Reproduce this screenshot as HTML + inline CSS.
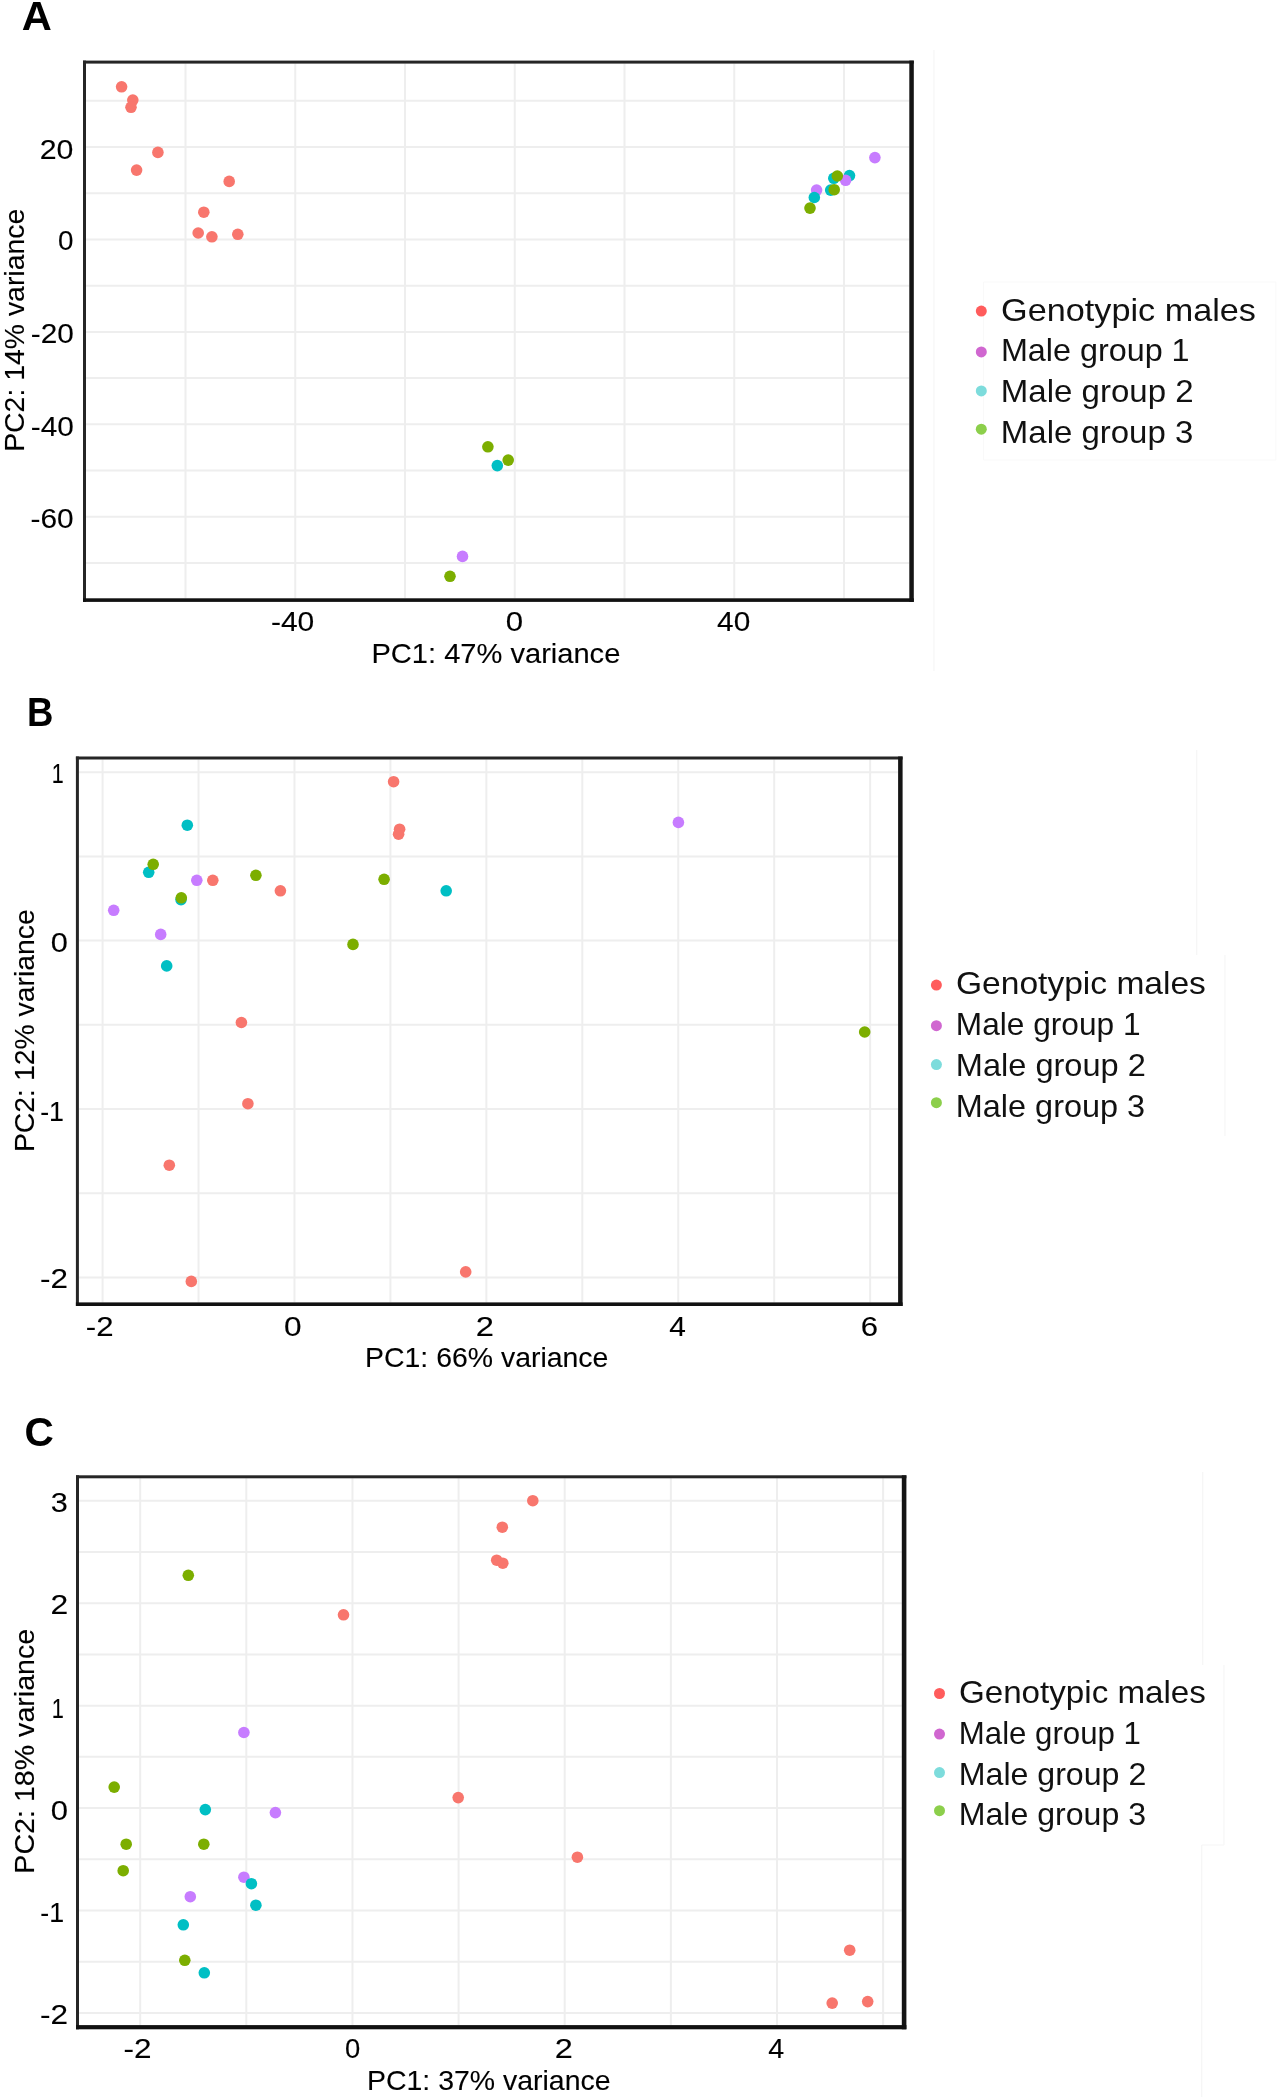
<!DOCTYPE html>
<html><head><meta charset="utf-8"><style>
html,body{margin:0;padding:0;background:#fff;}
body{width:1278px;height:2097px;overflow:hidden;}
svg{display:block;filter:blur(0.3px);}
text{font-family:"Liberation Sans", sans-serif;fill:#000;}
.tk,.tt{stroke:#000;stroke-width:0.12px;}
.lg{fill:#111;}
</style></head><body>
<svg width="1278" height="2097" viewBox="0 0 1278 2097">
<rect x="0" y="0" width="1278" height="2097" fill="#fff"/>
<line x1="934.00" y1="50.00" x2="934.00" y2="671.00" stroke="#F6F6F6" stroke-width="1.2"/>
<line x1="983.60" y1="282.00" x2="1275.90" y2="282.00" stroke="#F9F9F9" stroke-width="1"/>
<line x1="983.60" y1="282.00" x2="983.60" y2="460.00" stroke="#F9F9F9" stroke-width="1"/>
<line x1="1275.90" y1="282.00" x2="1275.90" y2="460.00" stroke="#F9F9F9" stroke-width="1"/>
<line x1="983.60" y1="460.00" x2="1275.90" y2="460.00" stroke="#F9F9F9" stroke-width="1"/>
<line x1="1196.70" y1="750.00" x2="1196.70" y2="955.00" stroke="#F6F6F6" stroke-width="1.2"/>
<line x1="1225.00" y1="955.00" x2="1225.00" y2="1136.00" stroke="#F6F6F6" stroke-width="1.2"/>
<line x1="1202.70" y1="1472.00" x2="1202.70" y2="1665.00" stroke="#F6F6F6" stroke-width="1.2"/>
<line x1="1224.00" y1="1665.00" x2="1224.00" y2="1845.00" stroke="#F6F6F6" stroke-width="1.2"/>
<line x1="1201.70" y1="1845.00" x2="1224.00" y2="1845.00" stroke="#F6F6F6" stroke-width="1.2"/>
<line x1="1201.70" y1="1845.00" x2="1201.70" y2="2097.00" stroke="#F6F6F6" stroke-width="1.2"/>
<line x1="185.50" y1="63.60" x2="185.50" y2="598.30" stroke="#EEEEEE" stroke-width="2.0"/>
<line x1="295.25" y1="63.60" x2="295.25" y2="598.30" stroke="#EEEEEE" stroke-width="2.0"/>
<line x1="405.00" y1="63.60" x2="405.00" y2="598.30" stroke="#EEEEEE" stroke-width="2.0"/>
<line x1="514.75" y1="63.60" x2="514.75" y2="598.30" stroke="#EEEEEE" stroke-width="2.0"/>
<line x1="624.50" y1="63.60" x2="624.50" y2="598.30" stroke="#EEEEEE" stroke-width="2.0"/>
<line x1="734.25" y1="63.60" x2="734.25" y2="598.30" stroke="#EEEEEE" stroke-width="2.0"/>
<line x1="844.00" y1="63.60" x2="844.00" y2="598.30" stroke="#EEEEEE" stroke-width="2.0"/>
<line x1="86.00" y1="100.80" x2="909.30" y2="100.80" stroke="#EEEEEE" stroke-width="2.0"/>
<line x1="86.00" y1="147.02" x2="909.30" y2="147.02" stroke="#EEEEEE" stroke-width="2.0"/>
<line x1="86.00" y1="193.24" x2="909.30" y2="193.24" stroke="#EEEEEE" stroke-width="2.0"/>
<line x1="86.00" y1="239.46" x2="909.30" y2="239.46" stroke="#EEEEEE" stroke-width="2.0"/>
<line x1="86.00" y1="285.68" x2="909.30" y2="285.68" stroke="#EEEEEE" stroke-width="2.0"/>
<line x1="86.00" y1="331.90" x2="909.30" y2="331.90" stroke="#EEEEEE" stroke-width="2.0"/>
<line x1="86.00" y1="378.12" x2="909.30" y2="378.12" stroke="#EEEEEE" stroke-width="2.0"/>
<line x1="86.00" y1="424.34" x2="909.30" y2="424.34" stroke="#EEEEEE" stroke-width="2.0"/>
<line x1="86.00" y1="470.56" x2="909.30" y2="470.56" stroke="#EEEEEE" stroke-width="2.0"/>
<line x1="86.00" y1="516.78" x2="909.30" y2="516.78" stroke="#EEEEEE" stroke-width="2.0"/>
<line x1="86.00" y1="563.00" x2="909.30" y2="563.00" stroke="#EEEEEE" stroke-width="2.0"/>
<circle cx="121.60" cy="86.80" r="5.8" fill="#F8766D"/>
<circle cx="132.80" cy="100.10" r="5.8" fill="#F8766D"/>
<circle cx="131.00" cy="107.30" r="5.8" fill="#F8766D"/>
<circle cx="157.90" cy="152.40" r="5.8" fill="#F8766D"/>
<circle cx="136.60" cy="170.10" r="5.8" fill="#F8766D"/>
<circle cx="229.20" cy="181.40" r="5.8" fill="#F8766D"/>
<circle cx="203.80" cy="212.20" r="5.8" fill="#F8766D"/>
<circle cx="198.20" cy="233.00" r="5.8" fill="#F8766D"/>
<circle cx="211.90" cy="236.80" r="5.8" fill="#F8766D"/>
<circle cx="237.80" cy="234.30" r="5.8" fill="#F8766D"/>
<circle cx="874.90" cy="157.60" r="5.8" fill="#C77CFF"/>
<circle cx="816.60" cy="190.10" r="5.8" fill="#C77CFF"/>
<circle cx="462.50" cy="556.40" r="5.8" fill="#C77CFF"/>
<circle cx="849.50" cy="175.60" r="5.8" fill="#00BFC4"/>
<circle cx="833.80" cy="178.30" r="5.8" fill="#00BFC4"/>
<circle cx="830.70" cy="190.10" r="5.8" fill="#00BFC4"/>
<circle cx="814.30" cy="197.50" r="5.8" fill="#00BFC4"/>
<circle cx="497.30" cy="465.60" r="5.8" fill="#00BFC4"/>
<circle cx="845.60" cy="180.30" r="5.8" fill="#C77CFF"/>
<circle cx="837.30" cy="176.00" r="5.8" fill="#7CAE00"/>
<circle cx="834.20" cy="189.70" r="5.8" fill="#7CAE00"/>
<circle cx="810.00" cy="208.10" r="5.8" fill="#7CAE00"/>
<circle cx="487.90" cy="446.80" r="5.8" fill="#7CAE00"/>
<circle cx="508.20" cy="460.10" r="5.8" fill="#7CAE00"/>
<circle cx="450.00" cy="576.30" r="5.8" fill="#7CAE00"/>
<rect x="83.00" y="60.60" width="3.00" height="541.30" fill="#262626"/>
<rect x="83.00" y="60.60" width="830.80" height="3.00" fill="#262626"/>
<rect x="909.30" y="60.60" width="4.50" height="541.30" fill="#141414"/>
<rect x="83.00" y="598.30" width="830.80" height="3.60" fill="#111111"/>
<text x="39.78" y="158.60" font-size="28.5" class="tk" textLength="33.72" lengthAdjust="spacingAndGlyphs">20</text>
<text x="58.09" y="250.30" font-size="28.5" class="tk" textLength="15.49" lengthAdjust="spacingAndGlyphs">0</text>
<text x="30.76" y="343.40" font-size="28.5" class="tk" textLength="43.07" lengthAdjust="spacingAndGlyphs">-20</text>
<text x="30.76" y="436.10" font-size="28.5" class="tk" textLength="43.07" lengthAdjust="spacingAndGlyphs">-40</text>
<text x="30.56" y="528.40" font-size="28.5" class="tk" textLength="43.17" lengthAdjust="spacingAndGlyphs">-60</text>
<text x="270.95" y="631.20" font-size="28.5" class="tk" textLength="43.39" lengthAdjust="spacingAndGlyphs">-40</text>
<text x="505.75" y="631.20" font-size="28.5" class="tk" textLength="17.35" lengthAdjust="spacingAndGlyphs">0</text>
<text x="717.13" y="631.20" font-size="28.5" class="tk" textLength="33.16" lengthAdjust="spacingAndGlyphs">40</text>
<text x="371.45" y="662.60" font-size="28.5" class="tt" textLength="248.89" lengthAdjust="spacingAndGlyphs">PC1: 47% variance</text>
<text transform="translate(24.00,451.84) rotate(-90)" x="0" y="0" font-size="28.5" class="tt" textLength="243.06" lengthAdjust="spacingAndGlyphs">PC2: 14% variance</text>
<text x="21.86" y="29.60" font-size="41" font-weight="bold" textLength="30.07" lengthAdjust="spacingAndGlyphs">A</text>
<circle cx="981.30" cy="311.10" r="5.5" fill="#FF5C5C"/>
<text x="1001.09" y="320.90" font-size="31.5" class="lg" textLength="254.82" lengthAdjust="spacingAndGlyphs">Genotypic males</text>
<circle cx="981.30" cy="351.90" r="5.5" fill="#D067D0"/>
<text x="1000.93" y="361.30" font-size="31.5" class="lg" textLength="188.67" lengthAdjust="spacingAndGlyphs">Male group 1</text>
<circle cx="981.30" cy="390.90" r="5.5" fill="#7DDCDC"/>
<text x="1000.88" y="402.10" font-size="31.5" class="lg" textLength="192.64" lengthAdjust="spacingAndGlyphs">Male group 2</text>
<circle cx="981.30" cy="429.20" r="5.5" fill="#8CCF4B"/>
<text x="1000.88" y="443.20" font-size="31.5" class="lg" textLength="192.39" lengthAdjust="spacingAndGlyphs">Male group 3</text>
<line x1="102.60" y1="759.50" x2="102.60" y2="1302.40" stroke="#EEEEEE" stroke-width="2.0"/>
<line x1="198.54" y1="759.50" x2="198.54" y2="1302.40" stroke="#EEEEEE" stroke-width="2.0"/>
<line x1="294.48" y1="759.50" x2="294.48" y2="1302.40" stroke="#EEEEEE" stroke-width="2.0"/>
<line x1="390.42" y1="759.50" x2="390.42" y2="1302.40" stroke="#EEEEEE" stroke-width="2.0"/>
<line x1="486.36" y1="759.50" x2="486.36" y2="1302.40" stroke="#EEEEEE" stroke-width="2.0"/>
<line x1="582.30" y1="759.50" x2="582.30" y2="1302.40" stroke="#EEEEEE" stroke-width="2.0"/>
<line x1="678.24" y1="759.50" x2="678.24" y2="1302.40" stroke="#EEEEEE" stroke-width="2.0"/>
<line x1="774.18" y1="759.50" x2="774.18" y2="1302.40" stroke="#EEEEEE" stroke-width="2.0"/>
<line x1="870.12" y1="759.50" x2="870.12" y2="1302.40" stroke="#EEEEEE" stroke-width="2.0"/>
<line x1="78.90" y1="772.20" x2="898.10" y2="772.20" stroke="#EEEEEE" stroke-width="2.0"/>
<line x1="78.90" y1="856.40" x2="898.10" y2="856.40" stroke="#EEEEEE" stroke-width="2.0"/>
<line x1="78.90" y1="940.60" x2="898.10" y2="940.60" stroke="#EEEEEE" stroke-width="2.0"/>
<line x1="78.90" y1="1024.80" x2="898.10" y2="1024.80" stroke="#EEEEEE" stroke-width="2.0"/>
<line x1="78.90" y1="1109.00" x2="898.10" y2="1109.00" stroke="#EEEEEE" stroke-width="2.0"/>
<line x1="78.90" y1="1193.20" x2="898.10" y2="1193.20" stroke="#EEEEEE" stroke-width="2.0"/>
<line x1="78.90" y1="1277.40" x2="898.10" y2="1277.40" stroke="#EEEEEE" stroke-width="2.0"/>
<circle cx="393.60" cy="781.70" r="5.8" fill="#F8766D"/>
<circle cx="399.60" cy="829.20" r="5.8" fill="#F8766D"/>
<circle cx="398.60" cy="834.20" r="5.8" fill="#F8766D"/>
<circle cx="212.80" cy="880.30" r="5.8" fill="#F8766D"/>
<circle cx="280.40" cy="890.80" r="5.8" fill="#F8766D"/>
<circle cx="241.40" cy="1022.50" r="5.8" fill="#F8766D"/>
<circle cx="247.90" cy="1103.70" r="5.8" fill="#F8766D"/>
<circle cx="169.30" cy="1165.20" r="5.8" fill="#F8766D"/>
<circle cx="191.30" cy="1281.40" r="5.8" fill="#F8766D"/>
<circle cx="465.70" cy="1271.90" r="5.8" fill="#F8766D"/>
<circle cx="113.70" cy="910.30" r="5.8" fill="#C77CFF"/>
<circle cx="160.70" cy="934.40" r="5.8" fill="#C77CFF"/>
<circle cx="196.80" cy="880.30" r="5.8" fill="#C77CFF"/>
<circle cx="678.40" cy="822.40" r="5.8" fill="#C77CFF"/>
<circle cx="187.30" cy="825.20" r="5.8" fill="#00BFC4"/>
<circle cx="148.70" cy="872.30" r="5.8" fill="#00BFC4"/>
<circle cx="446.20" cy="890.80" r="5.8" fill="#00BFC4"/>
<circle cx="166.70" cy="965.90" r="5.8" fill="#00BFC4"/>
<circle cx="181.00" cy="899.60" r="5.8" fill="#00BFC4"/>
<circle cx="153.20" cy="864.30" r="5.8" fill="#7CAE00"/>
<circle cx="181.30" cy="897.80" r="5.8" fill="#7CAE00"/>
<circle cx="255.90" cy="875.30" r="5.8" fill="#7CAE00"/>
<circle cx="384.10" cy="879.30" r="5.8" fill="#7CAE00"/>
<circle cx="353.00" cy="944.40" r="5.8" fill="#7CAE00"/>
<circle cx="864.70" cy="1032.00" r="5.8" fill="#7CAE00"/>
<rect x="75.90" y="756.50" width="3.00" height="549.50" fill="#262626"/>
<rect x="75.90" y="756.50" width="826.70" height="3.00" fill="#262626"/>
<rect x="898.10" y="756.50" width="4.50" height="549.50" fill="#141414"/>
<rect x="75.90" y="1302.40" width="826.70" height="3.60" fill="#111111"/>
<text x="51.69" y="783.20" font-size="28.5" class="tk" textLength="11.96" lengthAdjust="spacingAndGlyphs">1</text>
<text x="50.87" y="952.40" font-size="28.5" class="tk" textLength="17.12" lengthAdjust="spacingAndGlyphs">0</text>
<text x="40.19" y="1120.70" font-size="28.5" class="tk" textLength="23.82" lengthAdjust="spacingAndGlyphs">-1</text>
<text x="39.99" y="1287.90" font-size="28.5" class="tk" textLength="27.94" lengthAdjust="spacingAndGlyphs">-2</text>
<text x="85.80" y="1335.60" font-size="28.5" class="tk" textLength="27.71" lengthAdjust="spacingAndGlyphs">-2</text>
<text x="284.14" y="1335.60" font-size="28.5" class="tk" textLength="17.59" lengthAdjust="spacingAndGlyphs">0</text>
<text x="475.86" y="1335.60" font-size="28.5" class="tk" textLength="18.21" lengthAdjust="spacingAndGlyphs">2</text>
<text x="669.23" y="1335.60" font-size="28.5" class="tk" textLength="16.63" lengthAdjust="spacingAndGlyphs">4</text>
<text x="860.74" y="1335.60" font-size="28.5" class="tk" textLength="17.32" lengthAdjust="spacingAndGlyphs">6</text>
<text x="365.05" y="1366.80" font-size="28.5" class="tt" textLength="243.36" lengthAdjust="spacingAndGlyphs">PC1: 66% variance</text>
<text transform="translate(33.80,1152.04) rotate(-90)" x="0" y="0" font-size="28.5" class="tt" textLength="242.75" lengthAdjust="spacingAndGlyphs">PC2: 12% variance</text>
<text x="26.93" y="725.80" font-size="41" font-weight="bold" textLength="26.40" lengthAdjust="spacingAndGlyphs">B</text>
<circle cx="936.40" cy="985.10" r="5.5" fill="#FF5C5C"/>
<text x="956.02" y="993.70" font-size="31.5" class="lg" textLength="249.87" lengthAdjust="spacingAndGlyphs">Genotypic males</text>
<circle cx="936.40" cy="1025.70" r="5.5" fill="#D067D0"/>
<text x="955.89" y="1035.40" font-size="31.5" class="lg" textLength="184.68" lengthAdjust="spacingAndGlyphs">Male group 1</text>
<circle cx="936.40" cy="1064.60" r="5.5" fill="#7DDCDC"/>
<text x="955.81" y="1076.00" font-size="31.5" class="lg" textLength="189.98" lengthAdjust="spacingAndGlyphs">Male group 2</text>
<circle cx="936.40" cy="1102.70" r="5.5" fill="#8CCF4B"/>
<text x="955.82" y="1116.90" font-size="31.5" class="lg" textLength="189.32" lengthAdjust="spacingAndGlyphs">Male group 3</text>
<line x1="140.20" y1="1478.30" x2="140.20" y2="2025.10" stroke="#EEEEEE" stroke-width="2.0"/>
<line x1="246.33" y1="1478.30" x2="246.33" y2="2025.10" stroke="#EEEEEE" stroke-width="2.0"/>
<line x1="352.46" y1="1478.30" x2="352.46" y2="2025.10" stroke="#EEEEEE" stroke-width="2.0"/>
<line x1="458.59" y1="1478.30" x2="458.59" y2="2025.10" stroke="#EEEEEE" stroke-width="2.0"/>
<line x1="564.72" y1="1478.30" x2="564.72" y2="2025.10" stroke="#EEEEEE" stroke-width="2.0"/>
<line x1="670.85" y1="1478.30" x2="670.85" y2="2025.10" stroke="#EEEEEE" stroke-width="2.0"/>
<line x1="776.98" y1="1478.30" x2="776.98" y2="2025.10" stroke="#EEEEEE" stroke-width="2.0"/>
<line x1="883.11" y1="1478.30" x2="883.11" y2="2025.10" stroke="#EEEEEE" stroke-width="2.0"/>
<line x1="79.00" y1="1500.80" x2="901.80" y2="1500.80" stroke="#EEEEEE" stroke-width="2.0"/>
<line x1="79.00" y1="1552.01" x2="901.80" y2="1552.01" stroke="#EEEEEE" stroke-width="2.0"/>
<line x1="79.00" y1="1603.22" x2="901.80" y2="1603.22" stroke="#EEEEEE" stroke-width="2.0"/>
<line x1="79.00" y1="1654.43" x2="901.80" y2="1654.43" stroke="#EEEEEE" stroke-width="2.0"/>
<line x1="79.00" y1="1705.64" x2="901.80" y2="1705.64" stroke="#EEEEEE" stroke-width="2.0"/>
<line x1="79.00" y1="1756.85" x2="901.80" y2="1756.85" stroke="#EEEEEE" stroke-width="2.0"/>
<line x1="79.00" y1="1808.06" x2="901.80" y2="1808.06" stroke="#EEEEEE" stroke-width="2.0"/>
<line x1="79.00" y1="1859.27" x2="901.80" y2="1859.27" stroke="#EEEEEE" stroke-width="2.0"/>
<line x1="79.00" y1="1910.48" x2="901.80" y2="1910.48" stroke="#EEEEEE" stroke-width="2.0"/>
<line x1="79.00" y1="1961.69" x2="901.80" y2="1961.69" stroke="#EEEEEE" stroke-width="2.0"/>
<line x1="79.00" y1="2012.90" x2="901.80" y2="2012.90" stroke="#EEEEEE" stroke-width="2.0"/>
<circle cx="532.80" cy="1500.70" r="5.8" fill="#F8766D"/>
<circle cx="502.30" cy="1527.20" r="5.8" fill="#F8766D"/>
<circle cx="496.70" cy="1560.20" r="5.8" fill="#F8766D"/>
<circle cx="502.80" cy="1563.20" r="5.8" fill="#F8766D"/>
<circle cx="343.50" cy="1614.80" r="5.8" fill="#F8766D"/>
<circle cx="458.20" cy="1797.60" r="5.8" fill="#F8766D"/>
<circle cx="577.40" cy="1857.20" r="5.8" fill="#F8766D"/>
<circle cx="849.70" cy="1950.20" r="5.8" fill="#F8766D"/>
<circle cx="832.20" cy="2003.10" r="5.8" fill="#F8766D"/>
<circle cx="867.70" cy="2001.60" r="5.8" fill="#F8766D"/>
<circle cx="243.90" cy="1732.50" r="5.8" fill="#C77CFF"/>
<circle cx="275.40" cy="1812.60" r="5.8" fill="#C77CFF"/>
<circle cx="243.90" cy="1877.20" r="5.8" fill="#C77CFF"/>
<circle cx="190.30" cy="1896.70" r="5.8" fill="#C77CFF"/>
<circle cx="205.30" cy="1809.60" r="5.8" fill="#00BFC4"/>
<circle cx="251.40" cy="1883.70" r="5.8" fill="#00BFC4"/>
<circle cx="255.90" cy="1905.20" r="5.8" fill="#00BFC4"/>
<circle cx="183.30" cy="1924.80" r="5.8" fill="#00BFC4"/>
<circle cx="204.30" cy="1972.80" r="5.8" fill="#00BFC4"/>
<circle cx="188.30" cy="1575.30" r="5.8" fill="#7CAE00"/>
<circle cx="114.20" cy="1787.10" r="5.8" fill="#7CAE00"/>
<circle cx="126.20" cy="1844.20" r="5.8" fill="#7CAE00"/>
<circle cx="203.80" cy="1844.20" r="5.8" fill="#7CAE00"/>
<circle cx="123.20" cy="1870.70" r="5.8" fill="#7CAE00"/>
<circle cx="184.80" cy="1960.30" r="5.8" fill="#7CAE00"/>
<rect x="76.00" y="1475.30" width="3.00" height="554.00" fill="#262626"/>
<rect x="76.00" y="1475.30" width="830.40" height="3.00" fill="#262626"/>
<rect x="901.80" y="1475.30" width="4.60" height="554.00" fill="#141414"/>
<rect x="76.00" y="2025.10" width="830.40" height="4.20" fill="#111111"/>
<text x="50.75" y="1512.20" font-size="28.5" class="tk" textLength="17.09" lengthAdjust="spacingAndGlyphs">3</text>
<text x="50.41" y="1614.20" font-size="28.5" class="tk" textLength="17.72" lengthAdjust="spacingAndGlyphs">2</text>
<text x="51.77" y="1717.90" font-size="28.5" class="tk" textLength="12.09" lengthAdjust="spacingAndGlyphs">1</text>
<text x="50.76" y="1820.00" font-size="28.5" class="tk" textLength="17.24" lengthAdjust="spacingAndGlyphs">0</text>
<text x="40.29" y="1922.00" font-size="28.5" class="tk" textLength="23.82" lengthAdjust="spacingAndGlyphs">-1</text>
<text x="40.08" y="2024.10" font-size="28.5" class="tk" textLength="28.05" lengthAdjust="spacingAndGlyphs">-2</text>
<text x="123.58" y="2058.20" font-size="28.5" class="tk" textLength="28.05" lengthAdjust="spacingAndGlyphs">-2</text>
<text x="344.90" y="2058.20" font-size="28.5" class="tk" textLength="15.26" lengthAdjust="spacingAndGlyphs">0</text>
<text x="554.67" y="2058.20" font-size="28.5" class="tk" textLength="18.09" lengthAdjust="spacingAndGlyphs">2</text>
<text x="768.15" y="2058.20" font-size="28.5" class="tk" textLength="15.97" lengthAdjust="spacingAndGlyphs">4</text>
<text x="367.05" y="2089.50" font-size="28.5" class="tt" textLength="243.46" lengthAdjust="spacingAndGlyphs">PC1: 37% variance</text>
<text transform="translate(33.80,1873.66) rotate(-90)" x="0" y="0" font-size="28.5" class="tt" textLength="244.88" lengthAdjust="spacingAndGlyphs">PC2: 18% variance</text>
<text x="24.58" y="1446.00" font-size="41" font-weight="bold" textLength="29.33" lengthAdjust="spacingAndGlyphs">C</text>
<circle cx="939.50" cy="1693.50" r="5.5" fill="#FF5C5C"/>
<text x="958.94" y="1703.00" font-size="31.5" class="lg" textLength="246.93" lengthAdjust="spacingAndGlyphs">Genotypic males</text>
<circle cx="939.50" cy="1734.10" r="5.5" fill="#D067D0"/>
<text x="958.83" y="1743.80" font-size="31.5" class="lg" textLength="182.12" lengthAdjust="spacingAndGlyphs">Male group 1</text>
<circle cx="939.50" cy="1772.60" r="5.5" fill="#7DDCDC"/>
<text x="958.75" y="1784.60" font-size="31.5" class="lg" textLength="187.52" lengthAdjust="spacingAndGlyphs">Male group 2</text>
<circle cx="939.50" cy="1810.70" r="5.5" fill="#8CCF4B"/>
<text x="958.75" y="1824.80" font-size="31.5" class="lg" textLength="187.28" lengthAdjust="spacingAndGlyphs">Male group 3</text>
</svg>
</body></html>
